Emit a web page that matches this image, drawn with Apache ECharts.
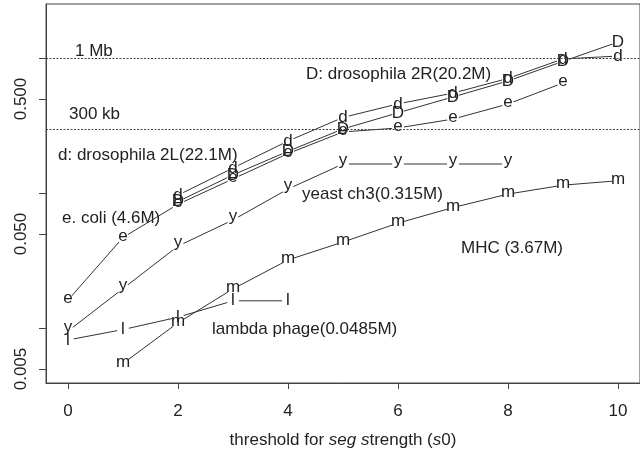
<!DOCTYPE html>
<html><head><meta charset="utf-8">
<script src="https://cdn.jsdelivr.net/npm/echarts@6/dist/echarts.min.js"></script>
<style>html,body{margin:0;padding:0;background:#fff}#c{width:640px;height:455px}</style>
</head><body><div id="c"></div>
<script>
// ---- data ----
const thresholds = [0, 1, 2, 3, 4, 5, 6, 7, 8, 9, 10];
const eColi   = [0.0162, 0.0471, 0.083, 0.128, 0.197, 0.285, 0.305, 0.355, 0.459, 0.657, null];
const dros2L  = [null, null, 0.097, 0.154, 0.244, 0.365, 0.46, 0.553, 0.71, 0.99, 1.04];
const dros2R  = [null, null, 0.087, 0.137, 0.205, 0.30, 0.395, 0.518, 0.68, 0.95, 1.32];
const yeast   = [0.00955, 0.0197, 0.0407, 0.0635, 0.1076, 0.165, 0.165, 0.165, 0.165, null, null];
const mhc     = [null, 0.0055, 0.0110, 0.0196, 0.0321, 0.0436, 0.0602, 0.0785, 0.0988, 0.115, 0.124];
const lambda  = [0.0082, 0.0098, 0.0121, 0.0160, 0.0160, null, null, null, null, null, null];

const xTicks = [0, 2, 4, 6, 8, 10];
const yTicks = [0.005, 0.01, 0.05, 0.1, 0.5, 1];
const yTickLabels = [0.005, 0.05, 0.5];
const refValues = [1, 0.3];
const refNames = ['1 Mb', '300 kb'];
const seriesNames = ['e. coli (4.6M)', 'd: drosophila 2L(22.1M)', 'D: drosophila 2R(20.2M)',
                     'yeast ch3(0.315M)', 'MHC (3.67M)', 'lambda phage(0.0485M)'];
const seriesLetters = ['e', 'd', 'D', 'y', 'm', 'l'];
const seriesValues = [eColi, dros2L, dros2R, yeast, mhc, lambda];

// ---- styling ----
const FONT = "'Liberation Sans', Arial, Helvetica, sans-serif";
const INK = '#222';
const LINE = '#333';
const glyphOffset = { e: -1.5, m: -1.5, y: -3.3, d: 0, D: 0, l: 0 };

const series = seriesValues.map((vals, i) => {
  const letter = seriesLetters[i];
  const data = [];
  thresholds.forEach((x, j) => { if (vals[j] != null) data.push([x, vals[j]]); });
  return {
    name: seriesNames[i],
    type: 'line',
    data: data,
    symbol: 'circle',
    symbolSize: 12,
    showSymbol: true,
    itemStyle: { color: '#fff', borderWidth: 0 },
    lineStyle: { color: LINE, width: 1 },
    label: {
      show: true, position: 'inside', formatter: letter,
      color: INK, fontSize: 17, fontFamily: FONT, offset: [0, glyphOffset[letter]]
    },
    emphasis: { disabled: true },
    silent: true,
    z: 2
  };
});

series.push({
  name: 'ref',
  type: 'line',
  data: [],
  z: 10,
  markLine: {
    silent: true,
    symbol: 'none',
    label: { show: false },
    lineStyle: { color: '#444', width: 1, type: [2, 1.5] },
    data: refValues.map(v => ({ yAxis: v }))
  }
});

const annotations = [
  { text: refNames[0], x: 75, y: 51 },
  { text: refNames[1], x: 69, y: 114 },
  { text: seriesNames[2], x: 306, y: 74 },
  { text: seriesNames[1], x: 58, y: 155 },
  { text: seriesNames[0], x: 62, y: 218 },
  { text: seriesNames[3], x: 302, y: 194 },
  { text: seriesNames[4], x: 461, y: 248 },
  { text: seriesNames[5], x: 212, y: 329 }
];

const chart = echarts.init(document.getElementById('c'), null, { renderer: 'canvas' });
chart.setOption({
  animation: false,
  backgroundColor: '#fff',
  grid: { left: 46, right: -7, top: 4, bottom: 72, show: true, borderColor: '#444', borderWidth: 1, containLabel: false },
  xAxis: {
    type: 'value', min: -0.4, max: 10.4,
    axisLine: { show: true, onZero: false, lineStyle: { color: '#444', width: 1 } },
    axisTick: { show: true, customValues: xTicks, length: 6, lineStyle: { color: '#444' } },
    axisLabel: { show: true, customValues: xTicks, margin: 20, color: INK, fontSize: 17, fontFamily: FONT },
    splitLine: { show: false },
    name: '{n|threshold for }{i|seg}{n| }{i|s}{n|trength (}{i|s}{n|0)}',
    nameLocation: 'middle', nameGap: 49,
    nameTextStyle: {
      color: INK, fontSize: 17, fontFamily: FONT,
      rich: {
        n: { color: INK, fontSize: 17, fontFamily: FONT },
        i: { color: INK, fontSize: 17, fontFamily: FONT, fontStyle: 'italic' }
      }
    }
  },
  yAxis: {
    type: 'log', logBase: 10, min: 0.003938, max: 2.527,
    axisLine: { show: true, onZero: false, lineStyle: { color: '#444', width: 1 } },
    axisTick: { show: true, customValues: yTicks, length: 7, lineStyle: { color: '#444' } },
    axisLabel: {
      show: true, customValues: yTickLabels, rotate: 90, margin: 16,
      color: INK, fontSize: 17, fontFamily: FONT,
      formatter: v => Number(v).toFixed(3)
    },
    splitLine: { show: false },
    minorTick: { show: false }
  },
  graphic: annotations.map(a => ({
    type: 'text', x: a.x, y: a.y, z: 20, silent: true,
    style: { text: a.text, fill: INK, fontSize: 17, fontFamily: FONT, align: 'left', verticalAlign: 'middle' }
  })),
  series: series
});
</script>
</body></html>
